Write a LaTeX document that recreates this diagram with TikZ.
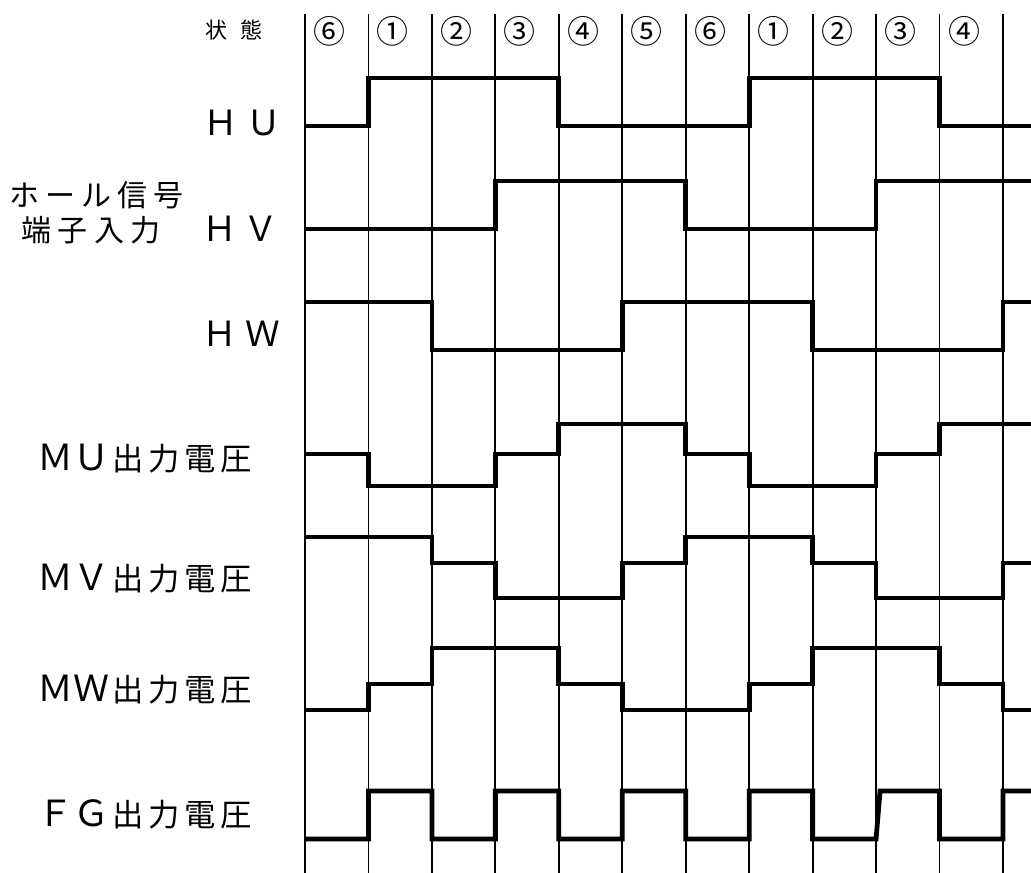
\documentclass[tikz,border=0pt]{standalone}
\usepackage{fontspec}
\newfontfamily\jp{Noto Sans CJK JP}
\makeatletter
\newcommand\cells[2]{\@tfor\cell@c:=#2\do{\makebox[#1][c]{\cell@c}}}
\makeatother
\newcommand\bigH{\fontsize{26pt}{26pt}\selectfont}
\newcommand\bigM{\fontsize{27pt}{27pt}\selectfont}
\begin{document}
\begin{tikzpicture}[x=0.75pt,y=-0.75pt,
  declare function={X(\i)=305+63.45*\i;},
  grid/.style={line width=1.35pt},
  wave/.style={line width=3.6pt, line join=miter},
  lbl/.style={anchor=east, inner sep=0pt},
  kanji/.style={font=\jp\fontsize{23.5pt}{24pt}\selectfont},
  num/.style={inner sep=0pt, font=\jp\fontsize{24pt}{24pt}\selectfont}]
\fill[white] (0,0) rectangle (1031,873);
\useasboundingbox (0,0) rectangle (1031,873);
% grid
\foreach \i in {0,...,11} \draw[grid] ({X(\i)},14) -- ({X(\i)},873);
% state numbers
\foreach \i/\t in {0/⑥,1/①,2/②,3/③,4/④,5/⑤,6/⑥,7/①,8/②,9/③,10/④}
  \node[num] (s\i) at ({X(\i)+24.5},31) {\t};
% labels
\node[lbl, font=\jp\fontsize{16.5pt}{17pt}\selectfont] (state) at (269,30.5) {\cells{26.25pt}{状態}};
\node[lbl, font=\jp] (hu) at (285,122.5) {\cells{32pt}{{\bigH Ｈ}{\bigH Ｕ}}};
\node[lbl, font=\jp] (hv) at (282,229) {\cells{31pt}{{\bigH Ｈ}{\bigH Ｖ}}};
\node[lbl, font=\jp] (hw) at (284,334) {\cells{32pt}{{\bigH Ｈ}{\bigH Ｗ}}};
\node[lbl, font=\jp\fontsize{22.5pt}{23pt}\selectfont] (hall1) at (187,195) {\cells{27pt}{ホール信号}};
\node[lbl, font=\jp\fontsize{22.5pt}{23pt}\selectfont] (hall2) at (164,230.5) {\cells{27.3pt}{端子入力}};
\node[lbl, kanji] (mu) at (255,458.5) {\cells{27.2pt}{{\bigM Ｍ}{\bigM Ｕ}出力電圧}};
\node[lbl, kanji] (mv) at (255,578.5) {\cells{27.2pt}{{\bigM Ｍ}{\bigM Ｖ}出力電圧}};
\node[lbl, kanji] (mw) at (255,690) {\cells{27.2pt}{{\bigM Ｍ}{\bigM Ｗ}出力電圧}};
\node[lbl, kanji] (fg) at (255,814.5) {\cells{27.2pt}{{\bigM Ｆ}{\bigM Ｇ}出力電圧}};
% waveforms
\draw[wave] ({X(0)},126) -| ({X(1)},78) -| ({X(4)},126) -| ({X(7)},78) -| ({X(10)},126) -- (1031,126);
\draw[wave] ({X(0)},229) -| ({X(3)},181) -| ({X(6)},229) -| ({X(9)},181) -- (1031,181);
\draw[wave] ({X(0)},302) -| ({X(2)},350) -| ({X(5)},302) -| ({X(8)},350) -| ({X(11)},302) -- (1031,302);
\draw[wave] ({X(0)},454) -| ({X(1)},486) -| ({X(3)},454) -| ({X(4)},424) -| ({X(6)},454) -| ({X(7)},486) -| ({X(9)},454) -| ({X(10)},424) -- (1031,424);
\draw[wave] ({X(0)},537) -| ({X(2)},563) -| ({X(3)},598) -| ({X(5)},563) -| ({X(6)},537) -| ({X(8)},563) -| ({X(9)},598) -| ({X(11)},563) -- (1031,563);
\draw[wave] ({X(0)},710) -| ({X(1)},684) -| ({X(2)},648) -| ({X(4)},684) -| ({X(5)},710) -| ({X(7)},684) -| ({X(8)},648) -| ({X(10)},684) -| ({X(11)},710) -- (1031,710);
\draw[wave] ({X(0)},839) -| ({X(1)},791) -| ({X(2)},839) -| ({X(3)},791) -| ({X(4)},839) -| ({X(5)},791) -| ({X(6)},839) -| ({X(7)},791) -| ({X(8)},839) -- ({X(9)},839) -- ({X(9)+4},791) -| ({X(10)},839) -| ({X(11)},791) -- (1031,791);
\end{tikzpicture}
\end{document}
